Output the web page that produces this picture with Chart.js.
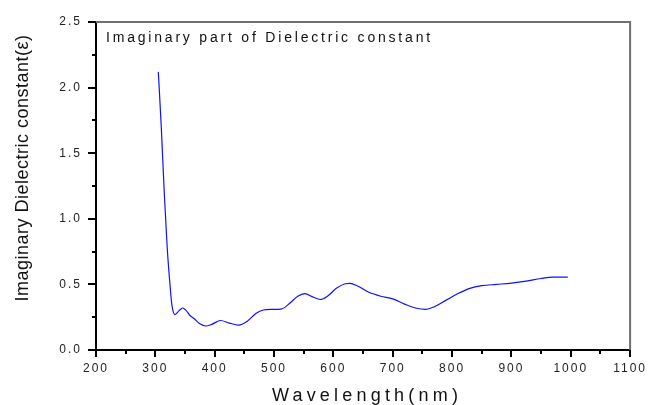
<!DOCTYPE html>
<html>
<head>
<meta charset="utf-8">
<script src="https://cdn.jsdelivr.net/npm/chart.js@4.4.1/dist/chart.umd.min.js"></script>
<style>
  html, body { margin: 0; padding: 0; background: #fff; }
  #wrap { width: 654px; height: 405px; }
</style>
</head>
<body>
<div id="wrap"><canvas id="c" width="654" height="405"></canvas></div>
<script>
// ---- data ----
const wavelength = [305, 310, 315, 320, 325, 328, 333, 340, 346, 352, 358, 365, 375, 385, 395, 410, 425, 440, 455, 470, 482, 495, 512, 525, 540, 552, 565, 578, 590, 605, 620, 628, 640, 660, 680, 700, 720, 740, 755, 770, 790, 810, 830, 850, 875, 900, 925, 950, 970, 995];
const epsImag   = [2.12, 1.70, 1.20, 0.78, 0.48, 0.34, 0.27, 0.30, 0.32, 0.30, 0.265, 0.24, 0.20, 0.183, 0.195, 0.225, 0.205, 0.19, 0.22, 0.28, 0.305, 0.31, 0.312, 0.35, 0.41, 0.43, 0.405, 0.385, 0.41, 0.47, 0.505, 0.508, 0.49, 0.44, 0.41, 0.39, 0.35, 0.318, 0.31, 0.33, 0.38, 0.43, 0.47, 0.49, 0.50, 0.51, 0.525, 0.545, 0.555, 0.555];
const xMajorLabels = [200, 300, 400, 500, 600, 700, 800, 900, 1000, 1100];
const yMajorLabels = [0.0, 0.5, 1.0, 1.5, 2.0, 2.5];
const innerTitle = 'Imaginary part of Dielectric constant';
const xTitle = 'Wavelength(nm)';
const yTitle = 'Imaginary Dielectric constant(\u03B5)';

const FONT = '"Liberation Sans", Arial, Helvetica, sans-serif';

const points = wavelength.map((w, i) => ({ x: w, y: epsImag[i] }));

const decor = {
  id: 'decor',
  beforeDraw(chart) {
    chart.ctx.letterSpacing = '2px';
  },
  afterDraw(chart) {
    const { ctx, chartArea: a, scales } = chart;
    const x = scales.x, y = scales.y;
    ctx.save();
    ctx.letterSpacing = '0px';
    // top / right frame
    ctx.strokeStyle = '#707070';
    ctx.lineWidth = 2;
    ctx.beginPath();
    ctx.moveTo(a.left, a.top);
    ctx.lineTo(a.right, a.top);
    ctx.lineTo(a.right, a.bottom);
    ctx.stroke();
    // tick marks
    ctx.strokeStyle = '#000';
    ctx.lineWidth = 2;
    ctx.beginPath();
    x.ticks.forEach(t => {
      const px = Math.round(x.getPixelForValue(t.value));
      const major = xMajorLabels.includes(t.value);
      ctx.moveTo(px, a.bottom);
      ctx.lineTo(px, a.bottom + (major ? 7 : 4));
    });
    y.ticks.forEach(t => {
      const py = Math.round(y.getPixelForValue(t.value));
      const major = yMajorLabels.some(v => Math.abs(v - t.value) < 1e-6);
      ctx.moveTo(a.left, py);
      ctx.lineTo(a.left - (major ? 8 : 4), py);
    });
    ctx.stroke();
    // inner title
    ctx.fillStyle = '#111';
    ctx.font = '14px ' + FONT;
    ctx.letterSpacing = '2.8px';
    ctx.textAlign = 'left';
    ctx.textBaseline = 'alphabetic';
    ctx.fillText(innerTitle, a.left + 10, 42);
    // x title
    ctx.font = '18px ' + FONT;
    ctx.letterSpacing = '4.2px';
    ctx.textAlign = 'center';
    ctx.fillText(xTitle, 367, 401);
    // y title
    ctx.letterSpacing = '0.5px';
    ctx.font = '18px ' + FONT;
    ctx.translate(28, 168);
    ctx.rotate(-Math.PI / 2);
    ctx.textAlign = 'center';
    ctx.fillText(yTitle, 0, 0);
    ctx.restore();
  }
};

new Chart(document.getElementById('c'), {
  type: 'scatter',
  data: {
    datasets: [{
      data: points,
      showLine: true,
      borderColor: '#1010ff',
      borderWidth: 1.2,
      pointRadius: 0,
      tension: 0.4,
      cubicInterpolationMode: 'monotone',
      fill: false
    }]
  },
  options: {
    responsive: false,
    animation: false,
    devicePixelRatio: 1,
    layout: { padding: { left: 0, top: 22, right: 19, bottom: 0 } },
    plugins: { legend: { display: false }, tooltip: { enabled: false }, title: { display: false } },
    scales: {
      x: {
        type: 'linear',
        min: 200, max: 1100,
        afterFit(s) { s.height = 55; },
        border: { display: true, color: '#000', width: 2 },
        grid: { display: true, drawOnChartArea: false, drawTicks: false, color: 'rgba(0,0,0,0)' },
        ticks: {
          stepSize: 50,
          autoSkip: false,
          maxRotation: 0,
          padding: 11,
          color: '#222',
          font: { family: FONT, size: 12 },
          callback: v => xMajorLabels.includes(v) ? String(v) : ''
        }
      },
      y: {
        type: 'linear',
        min: 0, max: 2.5,
        afterFit(s) { s.width = 96; },
        border: { display: true, color: '#000', width: 2 },
        grid: { display: true, drawOnChartArea: false, drawTicks: false, color: 'rgba(0,0,0,0)' },
        ticks: {
          stepSize: 0.25,
          autoSkip: false,
          padding: 14,
          color: '#222',
          font: { family: FONT, size: 12 },
          callback: v => yMajorLabels.some(m => Math.abs(m - v) < 1e-6) ? v.toFixed(1) : ''
        }
      }
    }
  },
  plugins: [decor]
});
</script>
</body>
</html>
